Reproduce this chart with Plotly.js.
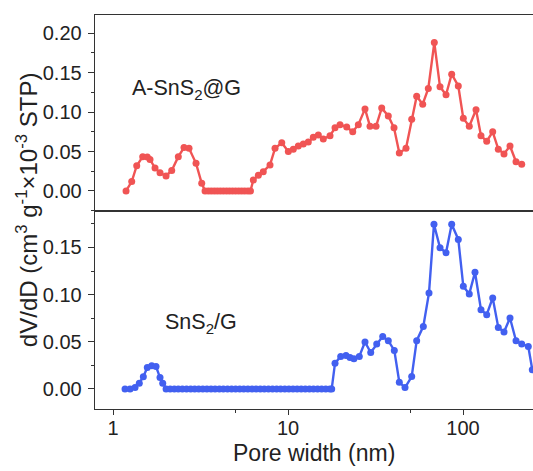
<!DOCTYPE html>
<html><head><meta charset="utf-8">
<script src="https://cdn.plot.ly/plotly-3.0.1.min.js"></script>
<style>html,body{margin:0;padding:0;background:#fff}#c{width:533px;height:471px}</style>
</head><body><div id="c"></div>
<script>
// A-SnS2@G (top, red)
const redX = [1.187,1.279,1.366,1.478,1.570,1.627,1.738,1.856,2.009,2.165,2.361,2.545,2.718,2.981,3.213,
  3.356,3.50,3.64,3.79,3.94,4.10,4.27,4.45,4.63,4.82,5.02,5.23,5.44,5.66,5.90,6.10,
  6.336,6.77,7.22,7.89,8.43,9.21,10.04,10.72,11.45,12.23,13.06,13.95,14.9,15.91,17.38,18.56,19.82,21.65,23.43,25.22,
  27.54,29.42,31.84,34.31,37.42,40.34,43.25,47.23,50.92,54.36,58.85,63.35,68.55,73.9,79.97,86.17,94.0,
  100.4,108.6,118.7,126.7,136.6,147.8,159.1,171.5,185.6,200.9,216.5];
const redY = [0.000,0.012,0.032,0.0435,0.043,0.040,0.029,0.023,0.019,0.026,0.0435,0.055,0.054,0.035,0.0098,
  0,0,0,0,0,0,0,0,0,0,0,0,0,0,0,0,
  0.014,0.020,0.0245,0.033,0.054,0.061,0.050,0.053,0.057,0.0596,0.062,0.068,0.071,0.066,0.070,0.080,0.084,0.081,0.075,0.084,
  0.104,0.082,0.082,0.105,0.095,0.080,0.048,0.054,0.091,0.120,0.110,0.130,0.188,0.132,0.122,0.148,0.133,
  0.092,0.082,0.103,0.070,0.063,0.075,0.053,0.047,0.057,0.037,0.034];
// SnS2/G (bottom, blue)
const blueX = [1.171,1.251,1.336,1.413,1.490,1.570,1.664,1.761,1.856,1.923,
  2.01,2.12,2.24,2.36,2.49,2.63,2.78,2.93,3.09,3.26,3.44,3.63,3.83,4.05,4.27,4.51,4.76,5.02,5.30,5.59,5.90,
  6.23,6.57,6.94,7.32,7.73,8.16,8.61,9.08,9.59,10.12,10.68,11.27,11.89,12.55,13.25,13.98,14.76,15.57,16.44,17.35,17.77,
  18.56,20.0,21.45,22.6,23.8,25.55,27.54,29.69,32.13,34.77,37.42,40.50,43.25,46.63,50.92,54.36,59.32,63.93,
  68.25,73.9,79.97,86.17,94.0,100.4,108.6,117.1,126.7,136.6,147.8,159.1,171.5,185.6,200.9,216.5,236.1,248.9,270];
const blueY = [0,0,0.0014,0.006,0.013,0.0227,0.0245,0.0237,0.012,0.006,
  0,0,0,0,0,0,0,0,0,0,0,0,0,0,0,0,0,0,0,0,0,
  0,0,0,0,0,0,0,0,0,0,0,0,0,0,0,0,0,0,0,0,0,
  0.0273,0.0344,0.0355,0.0333,0.0319,0.0344,0.0497,0.0386,0.0476,0.0557,0.0511,0.0408,0.0071,0.0014,0.0131,0.0511,0.0663,0.1018,
  0.1745,0.1497,0.1444,0.1745,0.1585,0.1088,0.1007,0.1237,0.084,0.0787,0.0965,0.0652,0.0603,0.0752,0.0511,0.0476,0.045,0.0202,0.012];
const yTicks = [0, 0.05, 0.10, 0.15, 0.20];
const xTicks = [1, 10, 100];
const xTickText = ['1', '10', '100'];
const xMinor = [5, 50];

const red = 'rgb(240,84,84)', blue = 'rgb(66,96,240)';
const font = {family: 'Liberation Sans, Arial, sans-serif', color: '#222'};
const data = [
  {x: redX, y: redY, xaxis: 'x2', yaxis: 'y2', mode: 'lines+markers', line: {color: red, width: 2.4}, marker: {color: red, size: 7}},
  {x: blueX, y: blueY, xaxis: 'x', yaxis: 'y', mode: 'lines+markers', line: {color: blue, width: 2.4}, marker: {color: blue, size: 7}}
];
const axLine = {showline: true, linecolor: '#333', linewidth: 1.3, showgrid: false, zeroline: false};
const yCommon = {tickmode: 'array', tickformat: '.2f', ticks: 'outside', ticklen: 6, tickcolor: '#333',
  ticklabelstandoff: 2,
  minor: {dtick: 0.025, tick0: 0, ticks: 'outside', ticklen: 3, tickcolor: '#333'}, tickfont: {size: 20}};
const layout = {
  width: 533, height: 471, margin: {l: 95, r: 0, t: 15, b: 62},
  paper_bgcolor: '#fff', plot_bgcolor: '#fff', showlegend: false,
  font: Object.assign({size: 20}, font),
  xaxis: Object.assign({}, axLine, {type: 'log', range: [-0.103, 2.4], domain: [0, 1], anchor: 'y', mirror: true,
    tickmode: 'array', tickvals: xTicks, ticktext: xTickText, ticks: 'outside', ticklen: 5, tickcolor: '#333',
    ticklabelstandoff: -4,
    minor: {tickmode: 'array', tickvals: xMinor, ticks: 'outside', ticklen: 3, tickcolor: '#333'},
    tickfont: {size: 20}}),
  yaxis: Object.assign({}, axLine, yCommon, {domain: [0, 0.5025], range: [-0.0213, 0.1886], anchor: 'x',
    tickvals: yTicks.slice(0, 4)}),
  xaxis2: Object.assign({}, axLine, {type: 'log', range: [-0.103, 2.4], domain: [0, 1], anchor: 'y2', mirror: true,
    matches: 'x', showticklabels: false, ticks: ''}),
  yaxis2: Object.assign({}, axLine, yCommon, {domain: [0.5025, 1], range: [-0.0254, 0.223], anchor: 'x2',
    tickvals: yTicks}),
  annotations: [
    {text: 'dV/dD (cm<sup>3</sup> g<sup>-1</sup>×10<sup>-3</sup> STP)', textangle: -90, xref: 'paper', yref: 'paper',
     x: -0.155, y: 0.505, xanchor: 'center', yanchor: 'middle', showarrow: false, font: {size: 24}},
    {text: 'Pore width (nm)', xref: 'paper', yref: 'paper', x: 0.5, y: -0.112, xanchor: 'center', yanchor: 'middle',
     showarrow: false, font: {size: 23}},
    {text: 'A-SnS<sub>2</sub>@G', xref: 'paper', yref: 'paper', x: 0.08, y: 0.81, xanchor: 'left', yanchor: 'middle',
     showarrow: false, font: {size: 21.5}},
    {text: 'SnS<sub>2</sub>/G', xref: 'paper', yref: 'paper', x: 0.155, y: 0.218, xanchor: 'left', yanchor: 'middle',
     showarrow: false, font: {size: 21.5}}
  ]
};
Plotly.newPlot('c', data, layout, {displayModeBar: false, staticPlot: true});
</script></body></html>
